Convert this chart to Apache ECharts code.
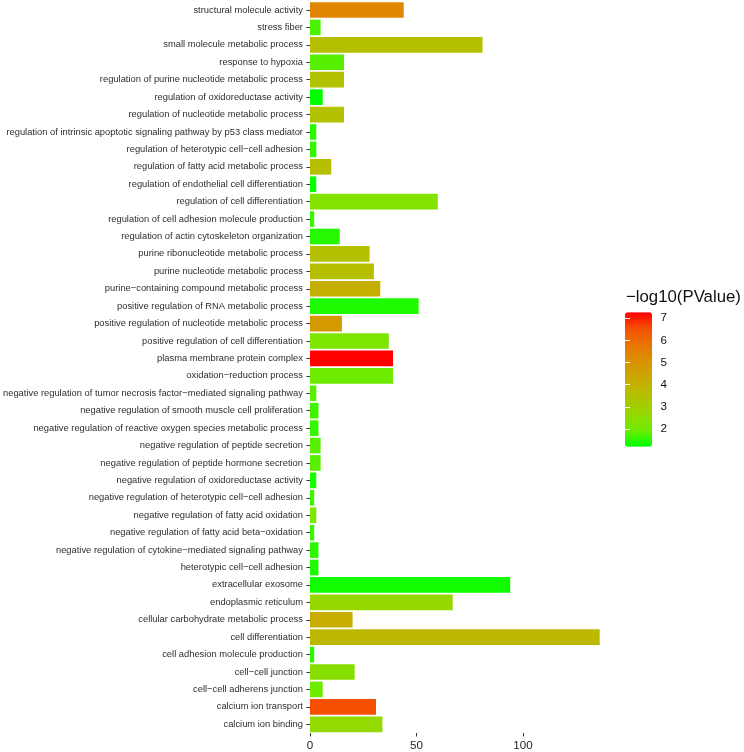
<!DOCTYPE html>
<html>
<head>
<meta charset="utf-8">
<script src="https://cdn.jsdelivr.net/npm/echarts@6/dist/echarts.min.js"></script>
<style>
html,body{margin:0;padding:0;background:#fff;}
#c{width:744px;height:752px;}
</style>
</head>
<body>
<div id="c"></div>
<script>
// categories, top to bottom as drawn
const categories = [
  "structural molecule activity",
  "stress fiber",
  "small molecule metabolic process",
  "response to hypoxia",
  "regulation of purine nucleotide metabolic process",
  "regulation of oxidoreductase activity",
  "regulation of nucleotide metabolic process",
  "regulation of intrinsic apoptotic signaling pathway by p53 class mediator",
  "regulation of heterotypic cell\u2212cell adhesion",
  "regulation of fatty acid metabolic process",
  "regulation of endothelial cell differentiation",
  "regulation of cell differentiation",
  "regulation of cell adhesion molecule production",
  "regulation of actin cytoskeleton organization",
  "purine ribonucleotide metabolic process",
  "purine nucleotide metabolic process",
  "purine\u2212containing compound metabolic process",
  "positive regulation of RNA metabolic process",
  "positive regulation of nucleotide metabolic process",
  "positive regulation of cell differentiation",
  "plasma membrane protein complex",
  "oxidation\u2212reduction process",
  "negative regulation of tumor necrosis factor\u2212mediated signaling pathway",
  "negative regulation of smooth muscle cell proliferation",
  "negative regulation of reactive oxygen species metabolic process",
  "negative regulation of peptide secretion",
  "negative regulation of peptide hormone secretion",
  "negative regulation of oxidoreductase activity",
  "negative regulation of heterotypic cell\u2212cell adhesion",
  "negative regulation of fatty acid oxidation",
  "negative regulation of fatty acid beta\u2212oxidation",
  "negative regulation of cytokine\u2212mediated signaling pathway",
  "heterotypic cell\u2212cell adhesion",
  "extracellular exosome",
  "endoplasmic reticulum",
  "cellular carbohydrate metabolic process",
  "cell differentiation",
  "cell adhesion molecule production",
  "cell\u2212cell junction",
  "cell\u2212cell adherens junction",
  "calcium ion transport",
  "calcium ion binding"
];
// gene counts (bar length)
const counts = [
  44, 5, 81, 16, 16, 6, 16, 3, 3, 10,
  3, 60, 2, 14, 28, 30, 33, 51, 15, 37,
  39, 39, 3, 4, 4, 5, 5, 3, 2, 3,
  2, 4, 4, 94, 67, 20, 136, 2, 21, 6,
  31, 34
];
// -log10(PValue) (bar colour)
const logP = [
  5.35, 1.7, 3.5, 1.8, 3.45, 1.22, 3.45, 1.5, 1.55, 3.55,
  1.28, 2.3, 1.6, 1.45, 3.5, 3.55, 4.1, 1.4, 4.8, 2.2,
  7.27, 1.95, 1.8, 1.65, 1.55, 1.8, 1.8, 1.4, 1.65, 2.2,
  1.65, 1.5, 1.4, 1.32, 2.7, 4.15, 3.8, 1.5, 2.4, 1.95,
  6.55, 2.6
];
const xTicks = [0, 50, 100];
const legendTicks = [2, 3, 4, 5, 6, 7];
const colorMin = 1.2, colorMax = 7.27;

const FONT = "'Liberation Sans', Arial, Helvetica, sans-serif";
const data = categories.map((c, i) => [counts[i], c, logP[i]]);

const chart = echarts.init(document.getElementById('c'), null, {renderer: 'canvas'});
chart.setOption({
  animation: false,
  backgroundColor: '#ffffff',
  textStyle: {fontFamily: FONT},
  title: {
    text: '\u2212log10(PValue)',
    left: 626, top: 289, padding: 0,
    textStyle: {fontSize: 16.8, fontWeight: 'normal', color: '#111', fontFamily: FONT}
  },
  grid: [
    {left: 308.5, top: 1.3, width: 291.2, bottom: 18.5, containLabel: false},
    {left: 625, top: 312.3, width: 27, height: 134.4, containLabel: false}
  ],
  xAxis: [
    {
      type: 'value', gridIndex: 0, min: 0, max: 136,
      axisLine: {show: false},
      splitLine: {show: false},
      axisTick: {show: true, length: 3.5, customValues: xTicks, lineStyle: {color: '#333', width: 1}},
      axisLabel: {customValues: xTicks, fontSize: 11.6, color: '#222', margin: 7, fontFamily: FONT}
    },
    {type: 'value', gridIndex: 1, show: false, min: 0, max: 1}
  ],
  yAxis: [
    {
      type: 'category', gridIndex: 0, data: categories, inverse: true,
      axisLine: {show: false},
      axisTick: {show: true, alignWithLabel: true, length: 3.5, lineStyle: {color: '#333', width: 1}},
      axisLabel: {fontSize: 9.36, color: '#2e2e2e', margin: 7, fontFamily: FONT, interval: 0}
    },
    {
      type: 'value', gridIndex: 1, min: colorMin, max: colorMax, position: 'right', z: 10,
      axisLine: {show: false}, splitLine: {show: false},
      axisTick: {show: true, inside: true, length: 5, customValues: legendTicks, lineStyle: {color: '#fff', width: 1}},
      axisLabel: {customValues: legendTicks, fontSize: 11.6, color: '#111', margin: 8.5, fontFamily: FONT}
    },
    {
      type: 'value', gridIndex: 1, min: colorMin, max: colorMax, position: 'left', z: 10,
      axisLine: {show: false}, splitLine: {show: false},
      axisTick: {show: true, inside: true, length: 5, customValues: legendTicks, lineStyle: {color: '#fff', width: 1}},
      axisLabel: {show: false}
    }
  ],
  visualMap: {
    type: 'continuous',
    min: colorMin, max: colorMax,
    dimension: 2, seriesIndex: 0,
    calculable: false, hoverLink: false,
    left: 625, top: 312.3, padding: 0,
    itemWidth: 27, itemHeight: 134.4,
    text: null,
    inRange: {color: ['#00FF00', '#70EB00', '#98D700', '#B3C100', '#C8AB00', '#DA9300', '#E87700', '#F45300', '#FF0000']}
  },
  series: [{
    type: 'bar',
    xAxisIndex: 0, yAxisIndex: 0,
    encode: {x: 0, y: 1},
    barWidth: '90%',
    data: data
  }]
});
</script>
</body>
</html>
